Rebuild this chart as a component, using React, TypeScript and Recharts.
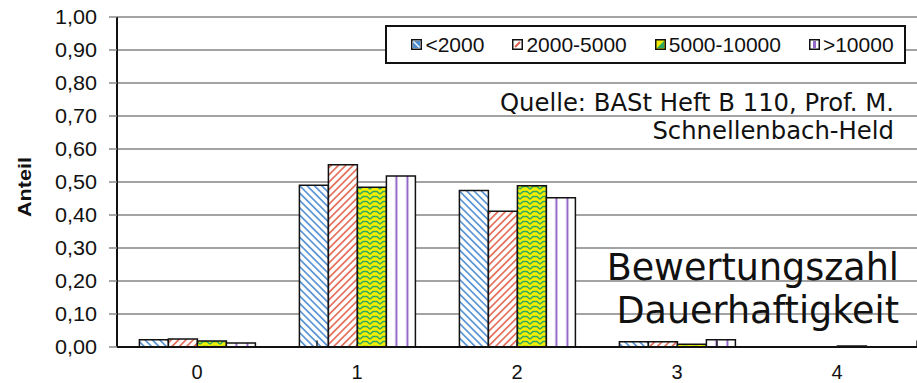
import { BarChart, Bar, XAxis, YAxis, CartesianGrid, Legend, ReferenceLine } from "recharts"

const categories = ["0", "1", "2", "3", "4"]
const seriesNames = ["<2000", "2000-5000", "5000-10000", ">10000"]
const under2000 = [0.022, 0.49, 0.474, 0.016, 0]
const from2000to5000 = [0.024, 0.552, 0.411, 0.016, 0]
const from5000to10000 = [0.018, 0.484, 0.489, 0.008, 0.003]
const over10000 = [0.012, 0.518, 0.452, 0.022, 0]
const yTicks = [0, 0.1, 0.2, 0.3, 0.4, 0.5, 0.6, 0.7, 0.8, 0.9, 1.0]
const separatorTicks = [1, 2, 3, 4]

const data = categories.map((cat, i) => ({
  cat,
  a: under2000[i],
  b: from2000to5000[i],
  c: from5000to10000[i],
  d: over10000[i],
}))

const keys = ["a", "b", "c", "d"]
const fills = ["url(#patBlue)", "url(#patRed)", "url(#patYellow)", "url(#patPurple)"]

const font = "'Liberation Sans', Arial, sans-serif"
const verdana = "'DejaVu Sans', Verdana, sans-serif"

function YTick({ x, y, payload }: any) {
  const label = payload.value.toFixed(2).replace(".", ",")
  return <text x={x} y={y} dy={7} textAnchor="end" fontFamily={font} fontSize={20} fill="#111"
    textLength={42} lengthAdjust="spacingAndGlyphs">{label}</text>
}

function XTick({ x, y, payload }: any) {
  return <text x={x} y={y} dy={14} textAnchor="middle" fontFamily={font} fontSize={20} fill="#111">{payload.value}</text>
}

function LegendIcon({ i }: { i: number }) {
  return <svg width={11} height={11} style={{ marginRight: 3 }}>
    {i === 0 && <><rect x={0.75} y={0.75} width={9.5} height={9.5} fill="#fff" stroke="#111" strokeWidth={1.5} />
      <rect x={2} y={2} width={7} height={7} fill="#4f8fd0" /><line x1={2.5} y1={2.5} x2={8.5} y2={8.5} stroke="#fff" strokeWidth={1.3} /></>}
    {i === 1 && <><rect x={0.75} y={0.75} width={9.5} height={9.5} fill="#fff" stroke="#111" strokeWidth={1.5} />
      <line x1={3} y1={8} x2={8} y2={3} stroke="#e0604c" strokeWidth={2} /></>}
    {i === 2 && <><rect x={0.75} y={0.75} width={9.5} height={9.5} fill="#f2ec00" stroke="#111" strokeWidth={1.5} />
      <path d="M2,9 L9,2 L9,9 Z" fill="#2ca860" /></>}
    {i === 3 && <><rect x={0.75} y={0.75} width={9.5} height={9.5} fill="#fff" stroke="#111" strokeWidth={1.5} />
      <rect x={4} y={2} width={3} height={7} fill="#9468c8" /></>}
  </svg>
}

function LegendBox() {
  return <div style={{
    boxSizing: "border-box", width: 521, height: 39, border: "2px solid #111", background: "#fff",
    display: "flex", alignItems: "center", justifyContent: "center", gap: 28, paddingLeft: 14,
    fontFamily: font, fontSize: 21, color: "#111",
  }}>
    {seriesNames.map((n, i) => <span key={n} style={{ display: "flex", alignItems: "center" }}>
      <LegendIcon i={i} />{n}
    </span>)}
  </div>
}

export default function App() {
  return <div style={{ position: "absolute", left: 0, top: 0, width: 917, height: 383, background: "#fff" }}>
    <BarChart width={917} height={383} data={data} barCategoryGap="14%" barGap={0}
      margin={{ top: 17, right: 0, bottom: 0, left: 0 }}>
      <defs>
        <pattern id="patBlue" patternUnits="userSpaceOnUse" width={5.2} height={5.2} patternTransform="rotate(-45)">
          <rect width={5.2} height={5.2} fill="#fff" />
          <line x1={2.6} y1={0} x2={2.6} y2={5.2} stroke="#5b95d6" strokeWidth={1.7} />
        </pattern>
        <pattern id="patRed" patternUnits="userSpaceOnUse" width={5.2} height={5.2} patternTransform="rotate(45)">
          <rect width={5.2} height={5.2} fill="#fff" />
          <line x1={2.6} y1={0} x2={2.6} y2={5.2} stroke="#e4705c" strokeWidth={1.7} />
        </pattern>
        <pattern id="patYellow" patternUnits="userSpaceOnUse" width={10} height={5}>
          <rect width={10} height={5} fill="#f4ee00" />
          <path d="M0,4.2 L3,1.5 L7,1.5 L10,4.2" fill="none" stroke="#2eaa64" strokeWidth={1.5} />
        </pattern>
        <pattern id="patPurple" patternUnits="objectBoundingBox" width={0.38} height={1}>
          <rect width={40} height={400} fill="#fff" />
          <rect x={9} y={0} width={2.6} height={400} fill="#9468c8" />
        </pattern>
      </defs>
      <CartesianGrid vertical={false} stroke="#a3a3a3" strokeWidth={2} />
      <XAxis xAxisId="sep" type="number" domain={[0, 5]} hide allowDataOverflow />
      <XAxis dataKey="cat" height={36} tickLine={false} tickSize={6} tickMargin={12}
        axisLine={{ stroke: "#111", strokeWidth: 2 }} tick={<XTick />} />
      <YAxis width={117} domain={[0, 1]} ticks={yTicks} interval={0} tickSize={8} tickMargin={12}
        axisLine={{ stroke: "#111", strokeWidth: 2 }} tickLine={{ stroke: "#888", strokeWidth: 1.5 }}
        tick={<YTick />} />
      {separatorTicks.map(t => <ReferenceLine key={t} xAxisId="sep" stroke="#222" strokeWidth={1.5}
        segment={[{ x: t, y: 0 }, { x: t, y: 0.02 }]} />)}
      <Legend layout="horizontal" verticalAlign="middle" align="center" content={<LegendBox />}
        wrapperStyle={{ position: "absolute", left: 385, top: 25, width: 521, height: 39 }} />
      {keys.map((k, i) => <Bar key={k} dataKey={k} name={seriesNames[i]} fill={fills[i]}
        stroke="#111" strokeWidth={1.5} isAnimationActive={false} />)}
    </BarChart>
    <svg width={917} height={383} style={{ position: "absolute", left: 0, top: 0, pointerEvents: "none" }}>
      <text transform="translate(31,187) rotate(-90)" textAnchor="middle" fontFamily={font} fontWeight="bold"
        fontSize={18} fill="#111" textLength={60} lengthAdjust="spacingAndGlyphs">Anteil</text>
      <text x={894} y={111} textAnchor="end" fontFamily={verdana} fontSize={24.3} fill="#111">Quelle: BASt Heft B 110, Prof. M.</text>
      <text x={894} y={139} textAnchor="end" fontFamily={verdana} fontSize={24.3} fill="#111">Schnellenbach-Held</text>
      <text x={899} y={280} textAnchor="end" fontFamily={verdana} fontSize={36.5} fill="#111">Bewertungszahl</text>
      <text x={899} y={323} textAnchor="end" fontFamily={verdana} fontSize={36.5} fill="#111">Dauerhaftigkeit</text>
    </svg>
  </div>
}
